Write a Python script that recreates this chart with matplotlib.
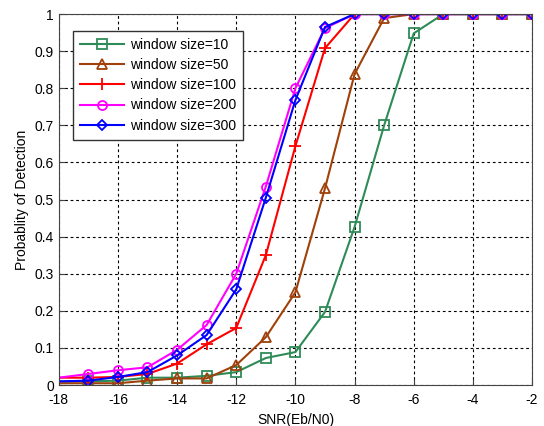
import matplotlib
matplotlib.use("Agg")
import matplotlib.pyplot as plt

# ── Data ──────────────────────────────────────────────────────────────────────
snr = [-18, -17, -16, -15, -14, -13, -12, -11, -10, -9, -8, -7, -6, -5, -4, -3, -2]

pd_w10  = [0.010, 0.010, 0.012, 0.020, 0.020, 0.025, 0.035, 0.073, 0.089, 0.197,
           0.426, 0.700, 0.948, 1.0, 1.0, 1.0, 1.0]
pd_w50  = [0.005, 0.005, 0.005, 0.012, 0.018, 0.018, 0.054, 0.129, 0.250, 0.530,
           0.838, 0.989, 1.0, 1.0, 1.0, 1.0, 1.0]
pd_w100 = [0.020, 0.020, 0.022, 0.030, 0.058, 0.110, 0.154, 0.350, 0.644, 0.908,
           1.0, 1.0, 1.0, 1.0, 1.0, 1.0, 1.0]
pd_w200 = [0.020, 0.030, 0.040, 0.048, 0.095, 0.162, 0.300, 0.535, 0.800, 0.962,
           1.0, 1.0, 1.0, 1.0, 1.0, 1.0, 1.0]
pd_w300 = [0.010, 0.012, 0.022, 0.035, 0.080, 0.135, 0.258, 0.505, 0.768, 0.965,
           1.0, 1.0, 1.0, 1.0, 1.0, 1.0, 1.0]

labels = ["window size=10", "window size=50", "window size=100",
          "window size=200", "window size=300"]

plt.rcParams["font.family"] = ["Liberation Sans", "DejaVu Sans"]
plt.rcParams["font.size"] = 10
plt.rcParams["axes.unicode_minus"] = False

fig = plt.figure(figsize=(5.44, 4.26), dpi=100)
ax = fig.add_axes([0.108, 0.096, 0.870, 0.871])

# (values, colour, marker, marker size)
series = [
    (pd_w10,  "#2E8B57", "s", 6.5),
    (pd_w50,  "#A0400A", "^", 6.5),
    (pd_w100, "#FF0000", "+", 8),
    (pd_w200, "#FF00FF", "o", 6.5),
    (pd_w300, "#0000FF", "D", 5.5),
]

for (ys, col, mk, ms), lab in zip(series, labels):
    ax.plot(snr, ys, color=col, marker=mk, ms=ms, mfc="none", mec=col,
            mew=1.3, lw=1.5, label=lab, markevery=slice(1, None))

ax.set_xlim(-18, -2)
ax.set_ylim(0, 1)
ax.set_xticks(range(-18, -1, 2))
ax.set_yticks([i / 10 for i in range(11)])
ax.set_yticklabels(["0"] + [f"{i/10:.1f}" for i in range(1, 10)] + ["1"])
ax.tick_params(direction="in", length=4, color="#444444", labelsize=10)
ax.tick_params(axis="x", pad=6)
ax.grid(True, color="black", ls=(0, (2.5, 2.5)), lw=0.8)
for sp in ax.spines.values():
    sp.set_color("#444444")

ax.set_xlabel("SNR(Eb/N0)", fontsize=10, labelpad=4)
ax.set_ylabel("Probablity of Detection", fontsize=10, labelpad=4)

leg = ax.legend(loc="upper left", bbox_to_anchor=(0.03, 0.955), fontsize=10,
                fancybox=False, framealpha=1, edgecolor="#333333",
                handlelength=3.2, borderpad=0.5, labelspacing=0.45,
                handletextpad=0.4, borderaxespad=0)
leg.get_frame().set_linewidth(1.0)

fig.savefig("out.png", dpi=100)
